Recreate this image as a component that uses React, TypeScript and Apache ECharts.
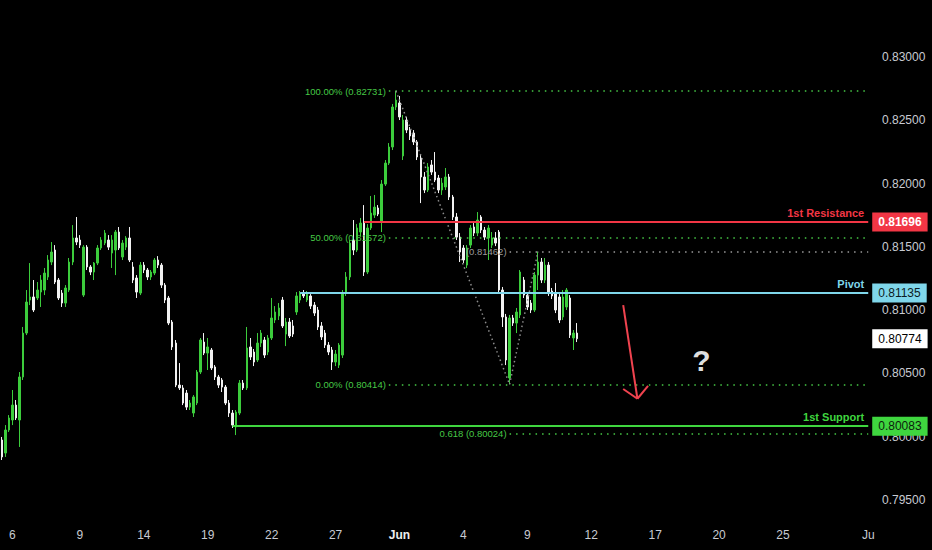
import React, { useEffect, useRef } from "react";
import * as echarts from "echarts";

// [open, close, low, high]
const candles: number[][] = [
  [0.79974, 0.7984, 0.79816, 0.79998],
  [0.79871, 0.80053, 0.7984, 0.80092],
  [0.80053, 0.80148, 0.80037, 0.80171],
  [0.80132, 0.8025, 0.80092, 0.80369],
  [0.8025, 0.80148, 0.80132, 0.8029],
  [0.80132, 0.80472, 0.79919, 0.80511],
  [0.80472, 0.80819, 0.80448, 0.80867],
  [0.80819, 0.81064, 0.80803, 0.81159],
  [0.8108, 0.81104, 0.8104, 0.81372],
  [0.81104, 0.81001, 0.80985, 0.81238],
  [0.81096, 0.81159, 0.8108, 0.81222],
  [0.81143, 0.81238, 0.81025, 0.81277],
  [0.81159, 0.81293, 0.81119, 0.81333],
  [0.81262, 0.81396, 0.81238, 0.81435],
  [0.8138, 0.81459, 0.81356, 0.81538],
  [0.81475, 0.81222, 0.81206, 0.81514],
  [0.81238, 0.81096, 0.8108, 0.81254],
  [0.81135, 0.81056, 0.81025, 0.81159],
  [0.81056, 0.81175, 0.81025, 0.81198],
  [0.81159, 0.8138, 0.81143, 0.81412],
  [0.8138, 0.8157, 0.81356, 0.81672],
  [0.8157, 0.81538, 0.81514, 0.81736],
  [0.81554, 0.81514, 0.81491, 0.81593],
  [0.81119, 0.81498, 0.81104, 0.81514],
  [0.81498, 0.81341, 0.81317, 0.81514],
  [0.81341, 0.81301, 0.81277, 0.81356],
  [0.81301, 0.81372, 0.81238, 0.8138],
  [0.81372, 0.81491, 0.81356, 0.81514],
  [0.81491, 0.81554, 0.81475, 0.81577],
  [0.8153, 0.81609, 0.81514, 0.81633],
  [0.81554, 0.81498, 0.81475, 0.81593],
  [0.81451, 0.81554, 0.81333, 0.81593],
  [0.81475, 0.81617, 0.81277, 0.81633],
  [0.81617, 0.81491, 0.81475, 0.81657],
  [0.8142, 0.8153, 0.81396, 0.81554],
  [0.81498, 0.8157, 0.81475, 0.81585],
  [0.8157, 0.81396, 0.8138, 0.81657],
  [0.81341, 0.81238, 0.81214, 0.8138],
  [0.81254, 0.81143, 0.81096, 0.81277],
  [0.81135, 0.81356, 0.81119, 0.8138],
  [0.81356, 0.81317, 0.81293, 0.8138],
  [0.81317, 0.81262, 0.81238, 0.81333],
  [0.81262, 0.81301, 0.81238, 0.81317],
  [0.81293, 0.81396, 0.81277, 0.81412],
  [0.81396, 0.81356, 0.81333, 0.81427],
  [0.81356, 0.81198, 0.81175, 0.81372],
  [0.81198, 0.8108, 0.81056, 0.81214],
  [0.81096, 0.80898, 0.80882, 0.81112],
  [0.80906, 0.80709, 0.80685, 0.80922],
  [0.8074, 0.80408, 0.80392, 0.80764],
  [0.80408, 0.80385, 0.80369, 0.80582],
  [0.80385, 0.80266, 0.8025, 0.80408],
  [0.80345, 0.80234, 0.80211, 0.80369],
  [0.80234, 0.80266, 0.80211, 0.8029],
  [0.80187, 0.80314, 0.80156, 0.80329],
  [0.80266, 0.80511, 0.8025, 0.80527],
  [0.80511, 0.80764, 0.80495, 0.8078],
  [0.80748, 0.80661, 0.80645, 0.80819],
  [0.80661, 0.80709, 0.80527, 0.8078],
  [0.80685, 0.80543, 0.80527, 0.80701],
  [0.80551, 0.80472, 0.80448, 0.80566],
  [0.80472, 0.80408, 0.80385, 0.80488],
  [0.80448, 0.80392, 0.80353, 0.80464],
  [0.80392, 0.80266, 0.8025, 0.80408],
  [0.80266, 0.80187, 0.80156, 0.8029],
  [0.80187, 0.80092, 0.80069, 0.80211],
  [0.80077, 0.80195, 0.80013, 0.80211],
  [0.80187, 0.80424, 0.80171, 0.80448],
  [0.80424, 0.80385, 0.80369, 0.80448],
  [0.80385, 0.80701, 0.80369, 0.80867],
  [0.80709, 0.8063, 0.80606, 0.8078],
  [0.80669, 0.8059, 0.80558, 0.80693],
  [0.80606, 0.8074, 0.8059, 0.80819],
  [0.8074, 0.80819, 0.80709, 0.80843],
  [0.80764, 0.80645, 0.80622, 0.80788],
  [0.80669, 0.8078, 0.80645, 0.80803],
  [0.8078, 0.80938, 0.80764, 0.81096],
  [0.80922, 0.80985, 0.80898, 0.81032],
  [0.80954, 0.81017, 0.80922, 0.81056],
  [0.8108, 0.80875, 0.80859, 0.81104],
  [0.80811, 0.80906, 0.80716, 0.80938],
  [0.80906, 0.80796, 0.8078, 0.80938],
  [0.80875, 0.80811, 0.80788, 0.80922],
  [0.80985, 0.81112, 0.80962, 0.81143],
  [0.8108, 0.81135, 0.81056, 0.81151],
  [0.81135, 0.81112, 0.81096, 0.81159],
  [0.8108, 0.81127, 0.81064, 0.81151],
  [0.81112, 0.81032, 0.81009, 0.81127],
  [0.8104, 0.80977, 0.80954, 0.81064],
  [0.81001, 0.80867, 0.80843, 0.81025],
  [0.80875, 0.80788, 0.80764, 0.80906],
  [0.80819, 0.80724, 0.80701, 0.80843],
  [0.80724, 0.80669, 0.80645, 0.80748],
  [0.80685, 0.8059, 0.80527, 0.80709],
  [0.8059, 0.80653, 0.80558, 0.80685],
  [0.80566, 0.80724, 0.80543, 0.8074],
  [0.80645, 0.81135, 0.80622, 0.81159],
  [0.81135, 0.81262, 0.81112, 0.81301],
  [0.81262, 0.8153, 0.81238, 0.81554],
  [0.81554, 0.81475, 0.81435, 0.81712],
  [0.81475, 0.81649, 0.81459, 0.8168],
  [0.81617, 0.81688, 0.81585, 0.81728],
  [0.81688, 0.81301, 0.8127, 0.8183],
  [0.81301, 0.81649, 0.81285, 0.8168],
  [0.81649, 0.81767, 0.81633, 0.81902],
  [0.81751, 0.81814, 0.81728, 0.8191],
  [0.81807, 0.81759, 0.81743, 0.8183],
  [0.81696, 0.81996, 0.81617, 0.82028],
  [0.81996, 0.82162, 0.81981, 0.82186],
  [0.82162, 0.82289, 0.82147, 0.8232],
  [0.82289, 0.82605, 0.82265, 0.82629],
  [0.82605, 0.8266, 0.82581, 0.82731],
  [0.82637, 0.82526, 0.82502, 0.82692],
  [0.82218, 0.82502, 0.82186, 0.82542],
  [0.82502, 0.82423, 0.82399, 0.82526],
  [0.82423, 0.82376, 0.82344, 0.82447],
  [0.82399, 0.82329, 0.82305, 0.82423],
  [0.82329, 0.8221, 0.82186, 0.82344],
  [0.82202, 0.82052, 0.81846, 0.82226],
  [0.82052, 0.81949, 0.81925, 0.82091],
  [0.81949, 0.82131, 0.81933, 0.82162],
  [0.82147, 0.82091, 0.82068, 0.82186],
  [0.82091, 0.82028, 0.82012, 0.82249],
  [0.82044, 0.81949, 0.81925, 0.82068],
  [0.81949, 0.82004, 0.8191, 0.82044],
  [0.81973, 0.82052, 0.81949, 0.82123],
  [0.82052, 0.81894, 0.8187, 0.82076],
  [0.81894, 0.81736, 0.81712, 0.8191],
  [0.81736, 0.81577, 0.81554, 0.81767],
  [0.81577, 0.81459, 0.8138, 0.81609],
  [0.81491, 0.81396, 0.81372, 0.81514],
  [0.81356, 0.81491, 0.81333, 0.81514],
  [0.81514, 0.81649, 0.81491, 0.81672],
  [0.81657, 0.81609, 0.81585, 0.81688],
  [0.81609, 0.81712, 0.81585, 0.81775],
  [0.81736, 0.81633, 0.81609, 0.81751],
  [0.81633, 0.81577, 0.81554, 0.81657],
  [0.8157, 0.81649, 0.81396, 0.81672],
  [0.81514, 0.8157, 0.81491, 0.81617],
  [0.8157, 0.8153, 0.81506, 0.81617],
  [0.81617, 0.81159, 0.81143, 0.81633],
  [0.81159, 0.80946, 0.80867, 0.81183],
  [0.80946, 0.80606, 0.80566, 0.8097],
  [0.80464, 0.80938, 0.80414, 0.80962],
  [0.80938, 0.80898, 0.80875, 0.80962],
  [0.80898, 0.80985, 0.80819, 0.81017],
  [0.80962, 0.81301, 0.80938, 0.81317],
  [0.81238, 0.81119, 0.81096, 0.81262],
  [0.81119, 0.81025, 0.81001, 0.81143],
  [0.81056, 0.81001, 0.80977, 0.8108],
  [0.81001, 0.81277, 0.80985, 0.81301],
  [0.81277, 0.8138, 0.81159, 0.81462],
  [0.8138, 0.81238, 0.81214, 0.81412],
  [0.81238, 0.81356, 0.81214, 0.81412],
  [0.81356, 0.81135, 0.81112, 0.8138],
  [0.81151, 0.81112, 0.81088, 0.81175],
  [0.81135, 0.81001, 0.80977, 0.81214],
  [0.81104, 0.80922, 0.80898, 0.81127],
  [0.80946, 0.81104, 0.80922, 0.81159],
  [0.81025, 0.81159, 0.81001, 0.81175],
  [0.81096, 0.80803, 0.8078, 0.81119],
  [0.8078, 0.80819, 0.80685, 0.80843],
  [0.80819, 0.80774, 0.80748, 0.80898],
];

// Time axis: bar slots (past bars + empty future space)
const totalBars = 245;
const barSlots = Array.from({ length: totalBars }, (_, i) => `bar${i}`);
const xTickBars = [3, 22, 40, 58, 76, 94, 112, 130, 148, 166, 184, 202, 220, 244];
const xTickLabels = ["6", "9", "14", "19", "22", "27", "Jun", "4", "9", "12", "17", "20", "25", "Ju"];

// Price axis
const priceMin = 0.795;
const priceMax = 0.83;
const priceStep = 0.005;

// Key levels
const levelNames = ["1st Resistance", "Pivot", "1st Support"];
const levelValues = [0.81696, 0.81135, 0.80083];
const levelStartBars = [102, 84, 65];
const levelColors = ["#f23645", "#7fd6ea", "#3fd63f"];
const levelTextColors = ["#ffffff", "#0d1b22", "#0d220d"];

const lastPrice = 0.80774;
const lastBar = 244;

// Fibonacci levels
const fibLabels = ["100.00% (0.82731)", "50.00% (0.81572)", "0.00% (0.80414)", "0.618 (0.80024)", "(0.81462)"];
const fibValues = [0.82731, 0.81572, 0.80414, 0.80024, 0.81462];
const fibStartBars = [109, 109, 109, 143, 143];
const fibIsGrey = [false, false, false, false, true];

// Swing points of the dotted zig-zag (bar, price)
const swingBars = [111, 143, 151];
const swingPrices = [0.82731, 0.80414, 0.81462];

// Projected move arrow (bar, price): shaft start, tip, left arm, right arm
const arrowBars = [175, 179, 175, 182];
const arrowPrices = [0.8104, 0.803, 0.80377, 0.80401];

const questionBar = 197;
const questionPrice = 0.80606;

const FONT = "'Liberation Sans', Arial, sans-serif";

export default function App() {
  const ref = useRef<HTMLDivElement>(null);

  useEffect(() => {
    if (!ref.current) return;
    const chart = echarts.init(ref.current, null, { renderer: "svg" });

    const fibLines = fibValues.map((v, i) => {
      const c = fibIsGrey[i] ? "#9a9a9a" : "#46c846";
      return [
        {
          coord: [fibStartBars[i], v],
          lineStyle: { color: c, width: 1.5, type: [1.5, 5] as any },
          label: {
            show: true,
            position: "start",
            distance: 3,
            formatter: fibLabels[i],
            color: c,
            fontSize: 9.5,
            fontFamily: FONT,
          },
        },
        { coord: [lastBar, v] },
      ];
    });

    const zigzag = [];
    for (let i = 0; i < swingBars.length - 1; i++) {
      zigzag.push([
        {
          coord: [swingBars[i], swingPrices[i]],
          lineStyle: { color: "#8c8c8c", width: 1.5, type: [1.5, 3] as any },
          label: { show: false },
        },
        { coord: [swingBars[i + 1], swingPrices[i + 1]] },
      ]);
    }

    const levelLines = levelValues.map((v, i) => [
      {
        coord: [levelStartBars[i], v],
        lineStyle: { color: levelColors[i], width: 2, type: "solid" },
        label: {
          show: true,
          position: "insideEndTop",
          distance: 4,
          formatter: levelNames[i],
          color: levelColors[i],
          fontSize: 11,
          fontWeight: "bold",
          fontFamily: FONT,
        },
      },
      { coord: [lastBar, v] },
    ]);

    const boxValues = [...levelValues, lastPrice];
    const boxBg = [...levelColors, "#ffffff"];
    const boxFg = [...levelTextColors, "#000000"];
    const priceBoxes = boxValues.map((v, i) => [
      {
        coord: [lastBar - 20, v],
        lineStyle: { color: "rgba(0,0,0,0)", width: 1, type: "solid" },
        label: {
          show: true,
          position: "end",
          distance: 4,
          formatter: v.toFixed(5),
          color: boxFg[i],
          backgroundColor: boxBg[i],
          padding: [3, 6, 3, 6],
          fontSize: 12,
          lineHeight: 13,
          fontWeight: i === 0 ? "bold" : "normal",
          fontFamily: FONT,
        },
      },
      { coord: [lastBar, v] },
    ]);

    const arrowRed = "#f0434f";
    const arrowSegs = [
      [0, 1],
      [1, 2],
      [1, 3],
    ].map(([a, b]) => [
      {
        coord: [arrowBars[a], arrowPrices[a]],
        lineStyle: { color: arrowRed, width: 2, type: "solid" },
        label: { show: false },
      },
      { coord: [arrowBars[b], arrowPrices[b]] },
    ]);

    chart.setOption({
      animation: false,
      backgroundColor: "#000000",
      textStyle: { fontFamily: FONT },
      grid: { left: 0, right: 62, top: 57, bottom: 50, containLabel: false },
      xAxis: {
        type: "category",
        data: barSlots,
        boundaryGap: true,
        axisLine: { show: false },
        axisTick: { show: false },
        splitLine: { show: false },
        axisLabel: {
          color: "#c8cbd2",
          fontSize: 12,
          fontFamily: FONT,
          margin: 29,
          interval: (index: number) => xTickBars.indexOf(index) >= 0,
          formatter: (_v: string, index: number) => {
            const k = xTickBars.indexOf(index);
            if (k < 0) return "";
            const t = xTickLabels[k];
            return t === "Jun" ? `{b|${t}}` : t;
          },
          rich: { b: { fontWeight: "bold", color: "#eeeeee", fontSize: 12, fontFamily: FONT } },
        },
      },
      yAxis: {
        type: "value",
        position: "right",
        min: priceMin,
        max: priceMax,
        interval: priceStep,
        axisLine: { show: false },
        axisTick: { show: false },
        splitLine: { show: false },
        axisLabel: {
          color: "#c8cbd2",
          fontSize: 12,
          fontFamily: FONT,
          margin: 12,
          formatter: (v: number) => v.toFixed(5),
        },
      },
      series: [
        {
          name: "fib",
          type: "line",
          data: [],
          z: 1,
          silent: true,
          markLine: {
            silent: true,
            symbol: ["none", "none"],
            animation: false,
            data: [...fibLines, ...zigzag] as any,
          },
        },
        {
          name: "price",
          type: "candlestick",
          data: candles,
          z: 2,
          barWidth: 2,
          itemStyle: {
            color: "#3ccc3c",
            color0: "#f2f2f2",
            borderColor: "#3ccc3c",
            borderColor0: "#f2f2f2",
            borderWidth: 1,
          },
        },
        {
          name: "levels",
          type: "line",
          data: [],
          z: 3,
          silent: true,
          markLine: {
            silent: true,
            symbol: ["none", "none"],
            animation: false,
            data: [...levelLines, ...arrowSegs] as any,
          },
        },
        {
          name: "boxes",
          type: "line",
          data: [],
          z: 4,
          silent: true,
          markLine: {
            silent: true,
            symbol: ["none", "none"],
            animation: false,
            data: priceBoxes as any,
          },
          markPoint: {
            silent: true,
            animation: false,
            data: [
              {
                coord: [questionBar, questionPrice],
                symbol: "rect",
                symbolSize: [2, 2],
                itemStyle: { color: "rgba(0,0,0,0)" },
                label: {
                  show: true,
                  position: "inside",
                  formatter: "?",
                  color: "#dedede",
                  fontSize: 30,
                  fontWeight: "bold",
                  fontFamily: FONT,
                },
              },
            ],
          },
        },
      ],
    });

    return () => chart.dispose();
  }, []);

  return (
    <div
      ref={ref}
      style={{ position: "fixed", left: 0, top: 0, width: 932, height: 550, background: "#000" }}
    />
  );
}
